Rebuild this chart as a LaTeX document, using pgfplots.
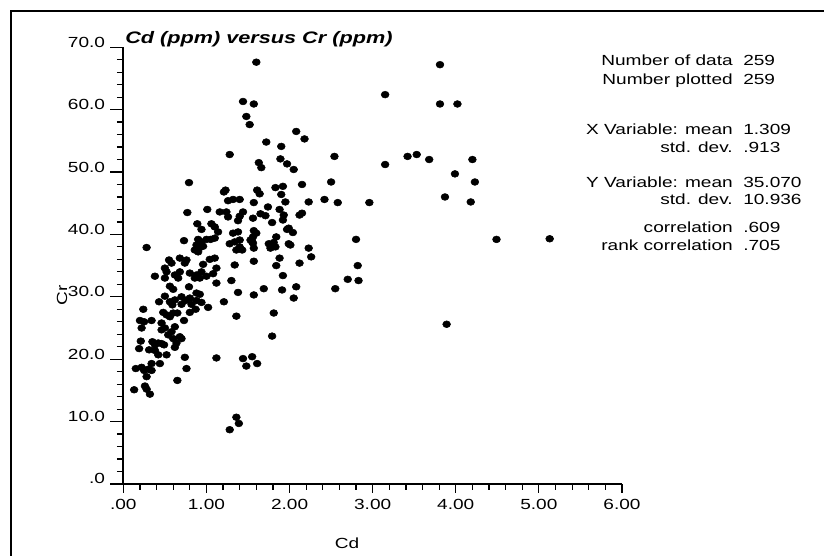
\documentclass[border=0pt]{standalone}
\usepackage{fontspec}
\setmainfont{Liberation Sans}[FakeStretch=1.3]
\usepackage{pgfplots}
\usepackage{pgfplotstable}
\pgfplotsset{compat=1.18}
\pgfplotstableread{
x y
1.60 67.6
1.44 61.3
1.57 60.9
1.48 58.9
1.52 57.6
2.08 56.5
1.72 54.8
1.90 54.1
1.28 52.8
1.89 52.1
3.81 67.2
3.15 62.4
3.81 60.9
4.02 60.9
2.18 55.3
2.54 52.5
1.63 51.5
1.66 50.7
1.97 51.3
2.05 50.4
3.15 51.2
3.42 52.5
3.53 52.8
3.68 52.0
4.20 52.0
3.99 49.7
4.23 48.4
3.87 46.0
4.18 45.2
4.49 39.2
5.13 39.3
3.89 25.6
2.15 48.0
2.50 48.4
1.83 47.5
1.92 47.7
1.61 47.1
1.64 46.5
1.90 46.4
1.57 45.1
1.95 45.2
2.23 45.2
2.42 45.6
2.58 45.1
2.96 45.1
1.74 44.4
1.88 44.0
1.65 43.3
1.71 43.0
1.93 43.1
2.15 43.4
2.12 43.1
1.56 42.6
1.79 41.9
1.92 42.3
1.99 41.0
1.57 40.6
1.60 40.2
1.56 39.6
1.97 40.8
2.04 40.3
1.84 39.6
2.80 39.2
1.56 38.6
1.75 38.5
1.81 38.7
1.77 37.8
1.83 38.0
1.57 37.8
1.99 38.5
2.23 37.8
2.26 36.4
1.57 35.7
1.88 36.2
1.84 35.0
2.12 35.4
2.82 35.0
1.92 33.4
2.70 32.8
2.83 32.6
2.55 31.3
2.08 31.6
1.69 31.3
1.91 31.1
1.57 30.3
2.05 29.8
1.81 27.4
1.79 23.7
1.55 20.4
1.61 19.3
1.44 20.1
1.48 18.9
1.12 20.2
1.28 8.7
1.36 10.7
1.39 9.7
0.79 48.3
1.23 47.1
1.21 46.8
1.26 45.4
1.32 45.6
1.40 45.6
0.77 43.5
1.01 44.0
1.16 43.6
1.24 43.6
1.26 42.8
1.44 43.6
1.40 42.9
1.38 42.2
0.89 41.7
0.94 40.8
1.06 41.7
1.10 41.2
1.14 40.4
1.32 40.2
1.38 40.4
1.40 39.1
1.53 39.1
0.73 39.0
0.90 39.2
0.94 38.8
1.00 39.2
1.05 39.2
1.10 39.4
0.88 38.3
0.92 37.9
0.96 38.1
0.86 37.5
0.90 37.2
1.28 38.5
1.34 38.8
1.40 38.0
1.43 37.5
1.36 37.5
1.55 38.8
2.01 38.3
0.28 37.9
0.55 35.9
0.58 35.4
0.50 34.6
0.52 34.0
0.68 36.2
0.76 35.9
0.74 35.4
0.96 35.2
1.04 36.0
1.10 36.2
1.12 34.6
1.08 33.7
0.94 34.0
1.34 35.1
0.38 33.3
0.50 33.0
0.62 33.5
0.68 34.0
0.66 33.0
0.80 33.8
0.86 33.0
0.92 33.0
1.00 33.3
0.88 33.5
0.56 31.7
0.60 31.2
0.79 31.6
1.12 32.2
1.30 32.6
0.88 30.6
0.92 30.4
1.38 30.7
0.50 30.1
0.43 29.2
0.56 29.2
0.59 28.7
0.62 29.5
0.70 30.0
0.70 28.8
0.75 29.4
0.80 29.8
0.82 28.8
0.88 29.4
0.94 29.1
0.87 28.0
0.80 27.5
1.02 28.3
1.21 29.2
0.24 28.0
1.36 26.9
0.20 26.2
0.25 26.0
0.34 26.2
0.48 27.5
0.52 27.1
0.46 25.8
0.56 26.8
0.60 27.4
0.65 27.4
0.73 26.2
0.22 25.0
0.46 24.7
0.50 25.0
0.58 24.4
0.62 25.2
0.54 23.9
0.60 23.3
0.68 23.6
0.21 22.9
0.35 22.8
0.38 22.3
0.42 22.6
0.46 22.5
0.49 22.3
0.64 22.6
0.62 21.9
0.70 23.3
0.19 21.7
0.31 21.5
0.38 21.4
0.42 20.7
0.52 20.7
0.74 20.3
0.34 19.3
0.15 18.5
0.22 18.7
0.25 18.2
0.30 18.4
0.34 18.2
0.44 19.3
0.76 18.5
0.28 17.2
0.65 16.6
0.13 15.1
0.26 15.7
0.28 15.2
0.32 14.4
}\datatable
\begin{document}
\begin{tikzpicture}
\fill[white] (0,0) rectangle (618pt,417pt);
\draw[line width=1.5pt] (8.25pt,-5pt) -- (8.25pt,409pt) -- (625pt,409pt);
\pgfplotsset{
  common/.style={
    at={(92.5pt,54pt)}, anchor=south west, scale only axis,
    width=374pt, height=327.6pt,
    xmin=0, xmax=6, ymin=0, ymax=70,
    tick align=outside, clip=false,
    every tick/.style={black, line width=0.9pt},
    /pgf/number format/assume math mode=true,
    tick label style={font=\fontsize{11pt}{13pt}\selectfont, inner sep=0pt},
  }
}
\begin{axis}[common,
  axis x line*=bottom, axis y line=none,
  x axis line style={line width=1.4pt},
  xtick={0,1,2,3,4,5,6},
  xticklabels={.00,1.00,2.00,3.00,4.00,5.00,6.00},
  minor x tick num=4,
  major tick length=6.75pt, minor tick length=4.5pt,
  xticklabel style={anchor=north, yshift=-4.5pt},
]
\end{axis}
\begin{axis}[common,
  axis y line*=left, axis x line=none,
  y axis line style={line width=1.4pt},
  ytick={0,10,20,30,40,50,60,70},
  yticklabels={.0,10.0,20.0,30.0,40.0,50.0,60.0,70.0},
  minor y tick num=4,
  major tick length=9.75pt, minor tick length=4.9pt,
  yticklabel style={anchor=base east, xshift=-3.75pt},
]
\addplot[only marks, mark=*, mark size=2.55pt, mark options={xscale=1.15, fill=black, draw=none}] table[x=x, y=y] {\datatable};
\end{axis}
\node[font=\fontsize{12.5pt}{15pt}\selectfont\bfseries\itshape, anchor=base west, inner sep=0pt] at (93.75pt,384.5pt) {Cd (ppm) versus Cr (ppm)};
\node[font=\fontsize{11pt}{13pt}\selectfont, rotate=90] at (46.5pt,195.75pt) {Cr};
\node[font=\fontsize{11pt}{13pt}\selectfont] at (260.25pt,9.75pt) {Cd};
\begin{scope}[every node/.style={font=\fontsize{11pt}{13pt}\selectfont, inner sep=0pt}]
\node[anchor=base east] at (549.75pt,367.7pt) {Number of data};
\node[anchor=base west] at (557.25pt,367.7pt) {259};
\node[anchor=base east] at (549.75pt,353.8pt) {Number plotted};
\node[anchor=base west] at (557.25pt,353.8pt) {259};
\node[anchor=base east] at (549.75pt,315.75pt) {X Variable: mean};
\node[anchor=base west] at (557.25pt,315.75pt) {1.309};
\node[anchor=base east] at (549.75pt,302.5pt) {std. dev.};
\node[anchor=base west] at (557.25pt,302.5pt) {.913};
\node[anchor=base east] at (549.75pt,276.2pt) {Y Variable: mean};
\node[anchor=base west] at (557.25pt,276.2pt) {35.070};
\node[anchor=base east] at (549.75pt,263.25pt) {std. dev.};
\node[anchor=base west] at (557.25pt,263.25pt) {10.936};
\node[anchor=base east] at (549.75pt,242.5pt) {correlation};
\node[anchor=base west] at (557.25pt,242.5pt) {.609};
\node[anchor=base east] at (549.75pt,229pt) {rank correlation};
\node[anchor=base west] at (557.25pt,229pt) {.705};
\end{scope}
\pgfresetboundingbox
\useasboundingbox (0,0) rectangle (618pt,417pt);
\end{tikzpicture}
\end{document}
